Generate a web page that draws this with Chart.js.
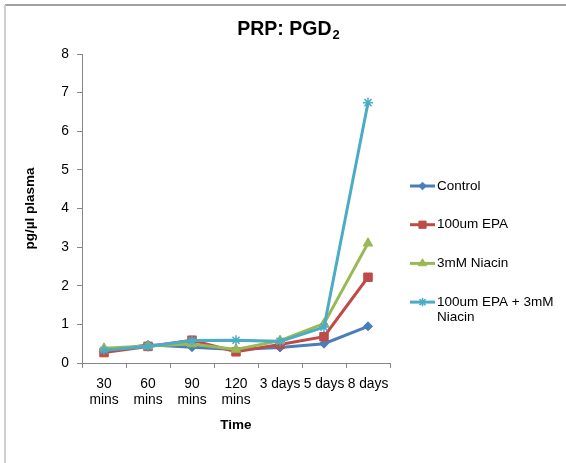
<!DOCTYPE html>
<html>
<head>
<meta charset="utf-8">
<script src="https://cdn.jsdelivr.net/npm/chart.js@4/dist/chart.umd.min.js"></script>
<style>
  html, body { margin: 0; padding: 0; background: #fff; }
  #wrap { width: 566px; height: 463px; position: relative; }
</style>
</head>
<body>
<div id="wrap"><canvas id="c" width="566" height="463"></canvas></div>
<script>
// Sampling times
const categories = [['30', 'mins'], ['60', 'mins'], ['90', 'mins'], ['120', 'mins'], '3 days', '5 days', '8 days'];

// PGD2 in platelet-rich plasma (pg/µl)
const control      = [0.30, 0.47, 0.41, 0.35, 0.40, 0.50, 0.95];
const epa100       = [0.27, 0.43, 0.59, 0.29, 0.48, 0.68, 2.22];
const niacin3      = [0.38, 0.44, 0.49, 0.35, 0.58, 1.02, 3.10];
const epaNiacin    = [0.33, 0.43, 0.58, 0.59, 0.56, 0.93, 6.74];

const seriesNames = ['Control', '100um EPA', '3mM Niacin', ['100um EPA + 3mM', 'Niacin']];
const yTicks = [0, 1, 2, 3, 4, 5, 6, 7, 8];

const FONT = '"Liberation Sans", Arial, sans-serif';
const colors = ['#4A7EBB', '#BE4B48', '#98B954', '#4BACC6'];
const styles = ['rectRot', 'rect', 'triangle', 'star'];
const radii = [4.5, 6, 5.5, 5];

function makeSet(i, data) {
  return {
    label: Array.isArray(seriesNames[i]) ? seriesNames[i].join(' ') : seriesNames[i],
    data: data,
    borderColor: colors[i],
    backgroundColor: colors[i],
    borderWidth: 3,
    tension: 0,
    pointStyle: styles[i],
    pointRadius: radii[i],
    pointHoverRadius: radii[i],
    pointBorderWidth: styles[i] === 'star' ? 1.5 : 1,
    pointBackgroundColor: colors[i],
    pointBorderColor: colors[i],
    order: 3 - i
  };
}

// White page with a grey frame, title with subscript, and the side legend
const decor = {
  id: 'decor',
  beforeDraw(chart) {
    const ctx = chart.ctx;
    ctx.save();
    ctx.fillStyle = '#fff';
    ctx.fillRect(0, 0, chart.width, chart.height);
    ctx.lineWidth = 2;
    ctx.strokeStyle = '#a0a0a0';
    ctx.beginPath();
    ctx.moveTo(5, 5); ctx.lineTo(570, 5);
    ctx.stroke();
    ctx.strokeStyle = '#cfcfcf';
    ctx.beginPath();
    ctx.moveTo(5, 470); ctx.lineTo(5, 5);
    ctx.stroke();
    ctx.restore();
  },
  afterDraw(chart) {
    const ctx = chart.ctx;
    ctx.save();
    // title
    const main = 'PRP: PGD';
    const sub = '2';
    ctx.fillStyle = '#000';
    ctx.textBaseline = 'alphabetic';
    ctx.font = 'bold 19.5px ' + FONT;
    const wMain = ctx.measureText(main).width;
    ctx.font = 'bold 13px ' + FONT;
    const wSub = ctx.measureText(sub).width;
    const x0 = 288 - (wMain + wSub) / 2;
    ctx.font = 'bold 19.5px ' + FONT;
    ctx.fillText(main, x0, 35);
    ctx.font = 'bold 13px ' + FONT;
    ctx.fillText(sub, x0 + wMain + 1, 39);

    // legend
    const lx0 = 410, lx1 = 435, ty0 = 186, step = 38.7;
    chart.data.datasets.forEach((ds, i) => {
      const y = ty0 + i * step;
      ctx.strokeStyle = ds.borderColor;
      ctx.lineWidth = 3;
      ctx.beginPath();
      ctx.moveTo(lx0, y); ctx.lineTo(lx1, y);
      ctx.stroke();
      ctx.fillStyle = ds.backgroundColor;
      ctx.strokeStyle = ds.borderColor;
      ctx.lineWidth = ds.pointBorderWidth;
      if (Chart.helpers && Chart.helpers.drawPoint) {
        Chart.helpers.drawPoint(ctx, {
          pointStyle: ds.pointStyle, rotation: 0,
          radius: ds.pointRadius * 0.85, borderWidth: ds.pointBorderWidth
        }, (lx0 + lx1) / 2, y);
      }
      ctx.fillStyle = '#000';
      ctx.font = '13.5px ' + FONT;
      ctx.textBaseline = 'middle';
      const lines = Array.isArray(seriesNames[i]) ? seriesNames[i] : [seriesNames[i]];
      lines.forEach((t, k) => ctx.fillText(t, 437, y + k * 15.5));
    });
    ctx.restore();
  }
};

new Chart(document.getElementById('c'), {
  type: 'line',
  data: {
    labels: categories,
    datasets: [
      makeSet(0, control),
      makeSet(1, epa100),
      makeSet(2, niacin3),
      makeSet(3, epaNiacin)
    ]
  },
  options: {
    responsive: false,
    animation: false,
    events: [],
    layout: { padding: { left: 18, right: 176, top: 54, bottom: 26 } },
    plugins: {
      legend: { display: false },
      title: { display: false },
      tooltip: { enabled: false }
    },
    scales: {
      x: {
        type: 'category',
        offset: true,
        grid: { offset: true, drawOnChartArea: false, drawTicks: true, tickLength: 5, color: '#868686', lineWidth: 1 },
        border: { display: true, color: '#868686', width: 1 },
        ticks: {
          color: '#000', autoSkip: false, maxRotation: 0, minRotation: 0, padding: 8,
          font: { family: FONT, size: 13.8, lineHeight: 1.17 }
        },
        title: {
          display: true, text: 'Time', color: '#000',
          padding: { top: 4, bottom: 4 },
          font: { family: FONT, size: 13.5, weight: 'bold' }
        },
        afterFit(s) { s.height = 74; }
      },
      y: {
        min: 0,
        max: 8,
        afterBuildTicks(s) { s.ticks = yTicks.map(v => ({ value: v })); },
        grid: { drawOnChartArea: false, drawTicks: true, tickLength: 5, color: '#868686', lineWidth: 1 },
        border: { display: true, color: '#868686', width: 1 },
        ticks: { color: '#000', padding: 8, font: { family: FONT, size: 13.8 } },
        title: {
          display: true, text: 'pg/µl plasma', color: '#000',
          padding: { top: 4, bottom: 4 },
          font: { family: FONT, size: 13.5, weight: 'bold' }
        },
        afterFit(s) { s.width = 64; }
      }
    }
  },
  plugins: [decor]
});
</script>
</body>
</html>
